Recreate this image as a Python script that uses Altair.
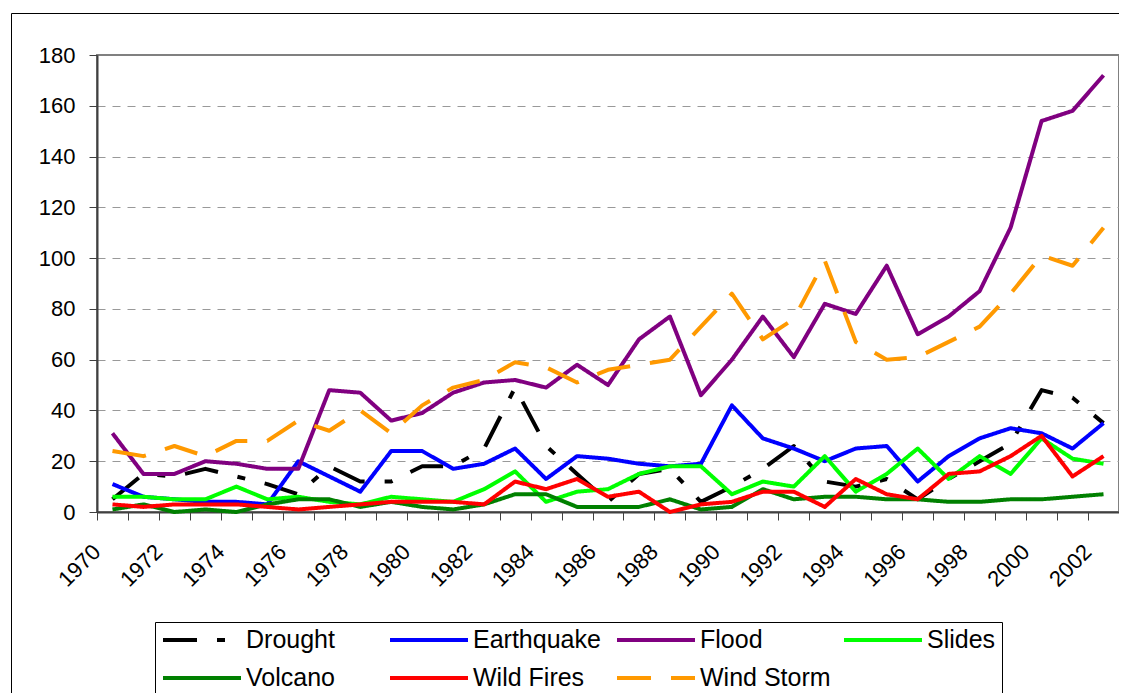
import altair as alt
import pandas as pd

# ---------------- data ----------------
years = list(range(1970, 2003))
series_names = ["Drought", "Earthquake", "Flood", "Slides", "Volcano", "Wild Fires", "Wind Storm"]

drought = [5, 15, 14, 17, 14, 11, 7, 18, 12, 12, 18, 18, 25, 49, 26, 15, 4, 15, 17, 4,
           10, 17, 26, 12, 10, 13, 5, 13, 20, 27, 48, 45, 35]
earthquake = [11, 6, 5, 4, 4, 3, 20, 14, 8, 24, 24, 17, 19, 25, 13, 22, 21, 19, 18, 19,
              42, 29, 25, 20, 25, 26, 12, 22, 29, 33, 31, 25, 35]
flood = [31, 15, 15, 20, 19, 17, 17, 48, 47, 36, 39, 47, 51, 52, 49, 58, 50, 68, 77, 46,
         60, 77, 61, 82, 78, 97, 70, 77, 87, 112, 154, 158, 172]
slides = [6, 6, 5, 5, 10, 5, 6, 4, 3, 6, 5, 4, 9, 16, 4, 8, 9, 15, 18, 18,
          7, 12, 10, 22, 8, 15, 25, 13, 22, 15, 29, 21, 19]
volcano = [1, 3, 0, 1, 0, 3, 5, 5, 2, 4, 2, 1, 3, 7, 7, 2, 2, 2, 5, 1,
           2, 9, 5, 6, 6, 5, 5, 4, 4, 5, 5, 6, 7]
wild_fires = [3, 2, 3, 3, 3, 2, 1, 2, 3, 4, 4, 4, 3, 12, 9, 13, 6, 8, 0, 3,
              4, 8, 8, 2, 13, 7, 5, 15, 16, 22, 30, 14, 22]
wind_storm = [24, 22, 26, 22, 28, 28, 36, 32, 40, 31, 42, 49, 52, 59, 57, 51, 56, 58, 60, 73,
              86, 68, 76, 99, 67, 60, 61, 67, 73, 86, 101, 97, 112]

series_values = [drought, earthquake, flood, slides, volcano, wild_fires, wind_storm]
series_colors = ["#000000", "#0000FF", "#800080", "#00FF00", "#008000", "#FF0000", "#FF9900"]
series_dashes = [[34, 20, 8, 20], [1, 0], [1, 0], [1, 0], [1, 0], [1, 0], [34, 20]]

y_ticks = list(range(0, 181, 20))
x_label_years = list(range(1970, 2003, 2))
x_tick_bounds = [y - 0.5 for y in years] + [years[-1] + 0.5]

rows = []
for name, vals in zip(series_names, series_values):
    for yr, v in zip(years, vals):
        rows.append({"year": yr, "count": v, "series": name})
df = pd.DataFrame(rows)

FONT = "Liberation Sans"


def make_legend():
    return alt.Legend(
        title=None, orient="none", legendX=58, legendY=567, direction="horizontal",
        columns=4, gridAlign="all",
        symbolType="stroke", symbolSize=6084, symbolStrokeWidth=4, symbolOpacity=1,
        labelFont=FONT, labelFontSize=25, labelColor="black", labelOffset=3, labelLimit=400,
        columnPadding=11, rowPadding=13, clipHeight=24, padding=6,
        strokeColor="black", fillColor="white",
    )


x_axis = alt.Axis(
    values=sorted(x_tick_bounds + x_label_years),
    labelExpr="datum.value % 2 === 0 ? format(datum.value, 'd') : ''",
    tickOpacity={"condition": {"test": "datum.value % 1 === 0", "value": 0}, "value": 1},
    tickSize=8, tickColor="#404040", tickWidth=1,
    domainColor="#404040", domainWidth=2,
    labelFont=FONT, labelFontSize=22, labelColor="black",
    labelAngle=315, labelAlign="right", labelBaseline="middle",
    labelOffset=-16, labelPadding=28, labelOverlap=False, labelFlush=False,
    grid=False, title=None,
)

y_axis = alt.Axis(
    values=y_ticks, format="d",
    tickSize=8, tickColor="#404040", tickWidth=1,
    domainColor="#404040", domainWidth=2,
    labelFont=FONT, labelFontSize=22, labelColor="black", labelPadding=14,
    grid=True, gridColor="#999999", gridWidth=1, gridDash=[8, 7],
    gridOpacity={"condition": {"test": "datum.value === 0 || datum.value === 180", "value": 0}, "value": 1},
    title=None,
)

lines = alt.Chart(df).mark_line(strokeWidth=4, strokeJoin="round").encode(
    x=alt.X("year:Q", scale=alt.Scale(domain=[1969.5, 2002.5], nice=False, zero=False), axis=x_axis),
    y=alt.Y("count:Q", scale=alt.Scale(domain=[0, 180], nice=False), axis=y_axis),
    color=alt.Color("series:N", scale=alt.Scale(domain=series_names, range=series_colors),
                    legend=make_legend()),
    strokeDash=alt.StrokeDash("series:N", scale=alt.Scale(domain=series_names, range=series_dashes),
                              legend=make_legend()),
)

# decorative outer chart frame (extends past the visible page edges like the original)
frame = alt.Chart(alt.Data(values=[{"k": 1}])).mark_rect(
    fillOpacity=0, stroke="black", strokeWidth=1
).encode(
    x=alt.value(-85.5), x2=alt.value(3000), y=alt.value(-41.5), y2=alt.value(3000)
)

chart = alt.layer(frame, lines).properties(
    width=1022, height=457,
    autosize=alt.AutoSizeParams(type="none"),
    padding={"left": 89, "top": 47, "right": 0, "bottom": 181},
    background="white",
).configure_view(stroke="#808080", strokeWidth=2)

chart.save("out.html", embed_options={"renderer": "svg", "actions": False})
